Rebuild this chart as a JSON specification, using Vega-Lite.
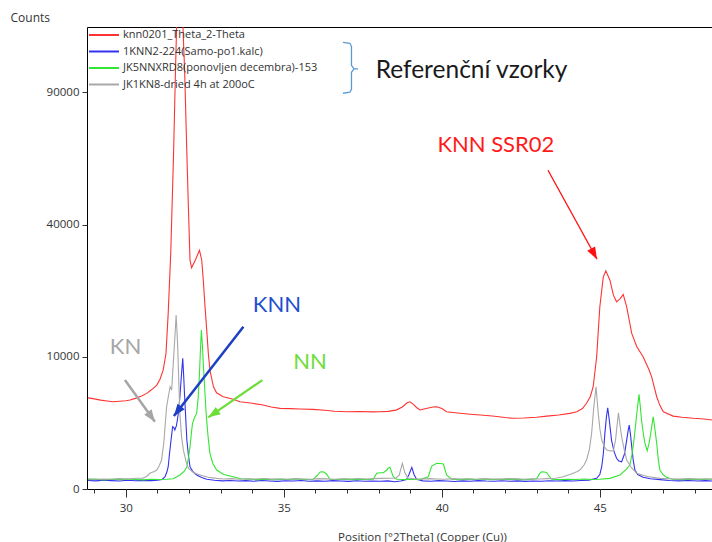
{
  "$schema": "https://vega.github.io/schema/vega-lite/v6.json",
  "width": 625,
  "height": 462,
  "autosize": {"type": "none"},
  "padding": {"left": 87, "top": 27, "right": 0, "bottom": 53},
  "background": "white",
  "config": {
    "font": "Open Sans",
    "view": {"stroke": "#000000", "strokeWidth": 1},
    "axis": {"grid": false, "domain": false, "tickColor": "#333333", "labelColor": "#333333", "labelFont": "Open Sans", "titleFont": "Open Sans", "titleFontWeight": "normal", "titleColor": "#333333"}
  },
  "resolve": {"axis": {"x": "independent"}, "scale": {"color": "independent"}},
  "datasets": {
    "xrd": [
      {"series":"knn0201_Theta_2-Theta","pos":28.80,"counts":4750},{"series":"knn0201_Theta_2-Theta","pos":29.0,"counts":4650},{"series":"knn0201_Theta_2-Theta","pos":29.2,"counts":4520},{"series":"knn0201_Theta_2-Theta","pos":29.4,"counts":4430},{"series":"knn0201_Theta_2-Theta","pos":29.6,"counts":4350},{"series":"knn0201_Theta_2-Theta","pos":29.8,"counts":4400},{"series":"knn0201_Theta_2-Theta","pos":30.0,"counts":4460},{"series":"knn0201_Theta_2-Theta","pos":30.13,"counts":4530},{"series":"knn0201_Theta_2-Theta","pos":30.3,"counts":4700},{"series":"knn0201_Theta_2-Theta","pos":30.5,"counts":4950},{"series":"knn0201_Theta_2-Theta","pos":30.66,"counts":5230},{"series":"knn0201_Theta_2-Theta","pos":30.8,"counts":5600},{"series":"knn0201_Theta_2-Theta","pos":30.98,"counts":6180},{"series":"knn0201_Theta_2-Theta","pos":31.08,"counts":6900},{"series":"knn0201_Theta_2-Theta","pos":31.18,"counts":8090},{"series":"knn0201_Theta_2-Theta","pos":31.27,"counts":10500},{"series":"knn0201_Theta_2-Theta","pos":31.34,"counts":17700},{"series":"knn0201_Theta_2-Theta","pos":31.42,"counts":31800},{"series":"knn0201_Theta_2-Theta","pos":31.51,"counts":64500},{"series":"knn0201_Theta_2-Theta","pos":31.57,"counts":100000},{"series":"knn0201_Theta_2-Theta","pos":31.61,"counts":125000},{"series":"knn0201_Theta_2-Theta","pos":31.70,"counts":160000},{"series":"knn0201_Theta_2-Theta","pos":31.80,"counts":125000},{"series":"knn0201_Theta_2-Theta","pos":31.86,"counts":100000},{"series":"knn0201_Theta_2-Theta","pos":31.93,"counts":64500},{"series":"knn0201_Theta_2-Theta","pos":31.98,"counts":45000},{"series":"knn0201_Theta_2-Theta","pos":32.03,"counts":30000},{"series":"knn0201_Theta_2-Theta","pos":32.08,"counts":28000},{"series":"knn0201_Theta_2-Theta","pos":32.20,"counts":30000},{"series":"knn0201_Theta_2-Theta","pos":32.33,"counts":32600},{"series":"knn0201_Theta_2-Theta","pos":32.40,"counts":30000},{"series":"knn0201_Theta_2-Theta","pos":32.45,"counts":25000},{"series":"knn0201_Theta_2-Theta","pos":32.50,"counts":19500},{"series":"knn0201_Theta_2-Theta","pos":32.56,"counts":14400},{"series":"knn0201_Theta_2-Theta","pos":32.61,"counts":10500},{"series":"knn0201_Theta_2-Theta","pos":32.66,"counts":8100},{"series":"knn0201_Theta_2-Theta","pos":32.77,"counts":6000},{"series":"knn0201_Theta_2-Theta","pos":32.87,"counts":5300},{"series":"knn0201_Theta_2-Theta","pos":33.08,"counts":4870},{"series":"knn0201_Theta_2-Theta","pos":33.4,"counts":4600},{"series":"knn0201_Theta_2-Theta","pos":33.61,"counts":4350},{"series":"knn0201_Theta_2-Theta","pos":34.0,"counts":4200},{"series":"knn0201_Theta_2-Theta","pos":34.34,"counts":4030},{"series":"knn0201_Theta_2-Theta","pos":34.6,"counts":3850},{"series":"knn0201_Theta_2-Theta","pos":34.88,"counts":3720},{"series":"knn0201_Theta_2-Theta","pos":35.2,"counts":3700},{"series":"knn0201_Theta_2-Theta","pos":35.5,"counts":3660},{"series":"knn0201_Theta_2-Theta","pos":35.92,"counts":3630},{"series":"knn0201_Theta_2-Theta","pos":36.3,"counts":3550},{"series":"knn0201_Theta_2-Theta","pos":36.6,"counts":3460},{"series":"knn0201_Theta_2-Theta","pos":36.99,"counts":3410},{"series":"knn0201_Theta_2-Theta","pos":37.4,"counts":3430},{"series":"knn0201_Theta_2-Theta","pos":37.8,"counts":3400},{"series":"knn0201_Theta_2-Theta","pos":38.04,"counts":3410},{"series":"knn0201_Theta_2-Theta","pos":38.3,"counts":3450},{"series":"knn0201_Theta_2-Theta","pos":38.55,"counts":3560},{"series":"knn0201_Theta_2-Theta","pos":38.75,"counts":3850},{"series":"knn0201_Theta_2-Theta","pos":38.9,"counts":4250},{"series":"knn0201_Theta_2-Theta","pos":38.99,"counts":4350},{"series":"knn0201_Theta_2-Theta","pos":39.1,"counts":4100},{"series":"knn0201_Theta_2-Theta","pos":39.2,"counts":3800},{"series":"knn0201_Theta_2-Theta","pos":39.31,"counts":3570},{"series":"knn0201_Theta_2-Theta","pos":39.5,"counts":3700},{"series":"knn0201_Theta_2-Theta","pos":39.72,"counts":3850},{"series":"knn0201_Theta_2-Theta","pos":39.84,"counts":3870},{"series":"knn0201_Theta_2-Theta","pos":40.0,"counts":3700},{"series":"knn0201_Theta_2-Theta","pos":40.15,"counts":3410},{"series":"knn0201_Theta_2-Theta","pos":40.5,"counts":3300},{"series":"knn0201_Theta_2-Theta","pos":40.9,"counts":3200},{"series":"knn0201_Theta_2-Theta","pos":41.21,"counts":3130},{"series":"knn0201_Theta_2-Theta","pos":41.6,"counts":3050},{"series":"knn0201_Theta_2-Theta","pos":42.0,"counts":2920},{"series":"knn0201_Theta_2-Theta","pos":42.25,"counts":2860},{"series":"knn0201_Theta_2-Theta","pos":42.6,"counts":2880},{"series":"knn0201_Theta_2-Theta","pos":43.0,"counts":2950},{"series":"knn0201_Theta_2-Theta","pos":43.32,"counts":3040},{"series":"knn0201_Theta_2-Theta","pos":43.7,"counts":3130},{"series":"knn0201_Theta_2-Theta","pos":44.05,"counts":3270},{"series":"knn0201_Theta_2-Theta","pos":44.27,"counts":3410},{"series":"knn0201_Theta_2-Theta","pos":44.45,"counts":3700},{"series":"knn0201_Theta_2-Theta","pos":44.58,"counts":4200},{"series":"knn0201_Theta_2-Theta","pos":44.7,"counts":4900},{"series":"knn0201_Theta_2-Theta","pos":44.79,"counts":5980},{"series":"knn0201_Theta_2-Theta","pos":44.90,"counts":10000},{"series":"knn0201_Theta_2-Theta","pos":45.0,"counts":18990},{"series":"knn0201_Theta_2-Theta","pos":45.11,"counts":25750},{"series":"knn0201_Theta_2-Theta","pos":45.19,"counts":27230},{"series":"knn0201_Theta_2-Theta","pos":45.32,"counts":24950},{"series":"knn0201_Theta_2-Theta","pos":45.43,"counts":21500},{"series":"knn0201_Theta_2-Theta","pos":45.53,"counts":20040},{"series":"knn0201_Theta_2-Theta","pos":45.65,"counts":20800},{"series":"knn0201_Theta_2-Theta","pos":45.74,"counts":21660},{"series":"knn0201_Theta_2-Theta","pos":45.85,"counts":18990},{"series":"knn0201_Theta_2-Theta","pos":46.01,"counts":13850},{"series":"knn0201_Theta_2-Theta","pos":46.17,"counts":11570},{"series":"knn0201_Theta_2-Theta","pos":46.37,"counts":10000},{"series":"knn0201_Theta_2-Theta","pos":46.55,"counts":8200},{"series":"knn0201_Theta_2-Theta","pos":46.64,"counts":7200},{"series":"knn0201_Theta_2-Theta","pos":46.8,"counts":4870},{"series":"knn0201_Theta_2-Theta","pos":46.9,"counts":4000},{"series":"knn0201_Theta_2-Theta","pos":47.01,"counts":3410},{"series":"knn0201_Theta_2-Theta","pos":47.32,"counts":3040},{"series":"knn0201_Theta_2-Theta","pos":47.6,"counts":2950},{"series":"knn0201_Theta_2-Theta","pos":47.96,"counts":2860},{"series":"knn0201_Theta_2-Theta","pos":48.3,"counts":2800},{"series":"knn0201_Theta_2-Theta","pos":48.55,"counts":2720},

      {"series":"1KNN2-224(Samo-po1.kalc)","pos":28.8,"counts":42},{"series":"1KNN2-224(Samo-po1.kalc)","pos":29.05,"counts":38},{"series":"1KNN2-224(Samo-po1.kalc)","pos":29.3,"counts":45},{"series":"1KNN2-224(Samo-po1.kalc)","pos":29.55,"counts":40},{"series":"1KNN2-224(Samo-po1.kalc)","pos":29.8,"counts":36},{"series":"1KNN2-224(Samo-po1.kalc)","pos":30.05,"counts":44},{"series":"1KNN2-224(Samo-po1.kalc)","pos":30.3,"counts":39},{"series":"1KNN2-224(Samo-po1.kalc)","pos":30.55,"counts":43},{"series":"1KNN2-224(Samo-po1.kalc)","pos":30.8,"counts":40},{"series":"1KNN2-224(Samo-po1.kalc)","pos":31.0,"counts":45},{"series":"1KNN2-224(Samo-po1.kalc)","pos":31.15,"counts":52},{"series":"1KNN2-224(Samo-po1.kalc)","pos":31.24,"counts":86},{"series":"1KNN2-224(Samo-po1.kalc)","pos":31.3,"counts":170},{"series":"1KNN2-224(Samo-po1.kalc)","pos":31.34,"counts":284},{"series":"1KNN2-224(Samo-po1.kalc)","pos":31.38,"counts":700},{"series":"1KNN2-224(Samo-po1.kalc)","pos":31.43,"counts":1370},{"series":"1KNN2-224(Samo-po1.kalc)","pos":31.48,"counts":2220},{"series":"1KNN2-224(Samo-po1.kalc)","pos":31.52,"counts":2150},{"series":"1KNN2-224(Samo-po1.kalc)","pos":31.55,"counts":1990},{"series":"1KNN2-224(Samo-po1.kalc)","pos":31.6,"counts":2300},{"series":"1KNN2-224(Samo-po1.kalc)","pos":31.63,"counts":2720},{"series":"1KNN2-224(Samo-po1.kalc)","pos":31.67,"counts":3500},{"series":"1KNN2-224(Samo-po1.kalc)","pos":31.71,"counts":4870},{"series":"1KNN2-224(Samo-po1.kalc)","pos":31.76,"counts":7500},{"series":"1KNN2-224(Samo-po1.kalc)","pos":31.80,"counts":9760},{"series":"1KNN2-224(Samo-po1.kalc)","pos":31.83,"counts":7300},{"series":"1KNN2-224(Samo-po1.kalc)","pos":31.86,"counts":4870},{"series":"1KNN2-224(Samo-po1.kalc)","pos":31.9,"counts":2600},{"series":"1KNN2-224(Samo-po1.kalc)","pos":31.93,"counts":1370},{"series":"1KNN2-224(Samo-po1.kalc)","pos":31.98,"counts":650},{"series":"1KNN2-224(Samo-po1.kalc)","pos":32.03,"counts":284},{"series":"1KNN2-224(Samo-po1.kalc)","pos":32.12,"counts":170},{"series":"1KNN2-224(Samo-po1.kalc)","pos":32.24,"counts":112},{"series":"1KNN2-224(Samo-po1.kalc)","pos":32.4,"counts":75},{"series":"1KNN2-224(Samo-po1.kalc)","pos":32.56,"counts":54},{"series":"1KNN2-224(Samo-po1.kalc)","pos":32.8,"counts":44},{"series":"1KNN2-224(Samo-po1.kalc)","pos":33.05,"counts":38},{"series":"1KNN2-224(Samo-po1.kalc)","pos":33.3,"counts":42},{"series":"1KNN2-224(Samo-po1.kalc)","pos":33.55,"counts":36},{"series":"1KNN2-224(Samo-po1.kalc)","pos":33.8,"counts":40},{"series":"1KNN2-224(Samo-po1.kalc)","pos":34.05,"counts":35},{"series":"1KNN2-224(Samo-po1.kalc)","pos":34.3,"counts":41},{"series":"1KNN2-224(Samo-po1.kalc)","pos":34.55,"counts":37},{"series":"1KNN2-224(Samo-po1.kalc)","pos":34.8,"counts":33},{"series":"1KNN2-224(Samo-po1.kalc)","pos":35.05,"counts":39},{"series":"1KNN2-224(Samo-po1.kalc)","pos":35.3,"counts":36},{"series":"1KNN2-224(Samo-po1.kalc)","pos":35.55,"counts":41},{"series":"1KNN2-224(Samo-po1.kalc)","pos":35.8,"counts":34},{"series":"1KNN2-224(Samo-po1.kalc)","pos":36.05,"counts":38},{"series":"1KNN2-224(Samo-po1.kalc)","pos":36.3,"counts":35},{"series":"1KNN2-224(Samo-po1.kalc)","pos":36.55,"counts":40},{"series":"1KNN2-224(Samo-po1.kalc)","pos":36.8,"counts":36},{"series":"1KNN2-224(Samo-po1.kalc)","pos":37.05,"counts":33},{"series":"1KNN2-224(Samo-po1.kalc)","pos":37.3,"counts":39},{"series":"1KNN2-224(Samo-po1.kalc)","pos":37.55,"counts":35},{"series":"1KNN2-224(Samo-po1.kalc)","pos":37.8,"counts":37},{"series":"1KNN2-224(Samo-po1.kalc)","pos":38.05,"counts":34},{"series":"1KNN2-224(Samo-po1.kalc)","pos":38.3,"counts":38},{"series":"1KNN2-224(Samo-po1.kalc)","pos":38.5,"counts":30},{"series":"1KNN2-224(Samo-po1.kalc)","pos":38.7,"counts":36},{"series":"1KNN2-224(Samo-po1.kalc)","pos":38.88,"counts":50},{"series":"1KNN2-224(Samo-po1.kalc)","pos":38.96,"counts":120},{"series":"1KNN2-224(Samo-po1.kalc)","pos":39.05,"counts":269},{"series":"1KNN2-224(Samo-po1.kalc)","pos":39.12,"counts":120},{"series":"1KNN2-224(Samo-po1.kalc)","pos":39.2,"counts":55},{"series":"1KNN2-224(Samo-po1.kalc)","pos":39.4,"counts":38},{"series":"1KNN2-224(Samo-po1.kalc)","pos":39.65,"counts":34},{"series":"1KNN2-224(Samo-po1.kalc)","pos":39.9,"counts":40},{"series":"1KNN2-224(Samo-po1.kalc)","pos":40.15,"counts":36},{"series":"1KNN2-224(Samo-po1.kalc)","pos":40.4,"counts":32},{"series":"1KNN2-224(Samo-po1.kalc)","pos":40.65,"counts":38},{"series":"1KNN2-224(Samo-po1.kalc)","pos":40.9,"counts":35},{"series":"1KNN2-224(Samo-po1.kalc)","pos":41.15,"counts":40},{"series":"1KNN2-224(Samo-po1.kalc)","pos":41.4,"counts":36},{"series":"1KNN2-224(Samo-po1.kalc)","pos":41.65,"counts":34},{"series":"1KNN2-224(Samo-po1.kalc)","pos":41.9,"counts":39},{"series":"1KNN2-224(Samo-po1.kalc)","pos":42.15,"counts":35},{"series":"1KNN2-224(Samo-po1.kalc)","pos":42.4,"counts":38},{"series":"1KNN2-224(Samo-po1.kalc)","pos":42.65,"counts":33},{"series":"1KNN2-224(Samo-po1.kalc)","pos":42.9,"counts":37},{"series":"1KNN2-224(Samo-po1.kalc)","pos":43.15,"counts":35},{"series":"1KNN2-224(Samo-po1.kalc)","pos":43.4,"counts":39},{"series":"1KNN2-224(Samo-po1.kalc)","pos":43.65,"counts":36},{"series":"1KNN2-224(Samo-po1.kalc)","pos":43.9,"counts":40},{"series":"1KNN2-224(Samo-po1.kalc)","pos":44.15,"counts":37},{"series":"1KNN2-224(Samo-po1.kalc)","pos":44.4,"counts":41},{"series":"1KNN2-224(Samo-po1.kalc)","pos":44.65,"counts":45},{"series":"1KNN2-224(Samo-po1.kalc)","pos":44.9,"counts":65},{"series":"1KNN2-224(Samo-po1.kalc)","pos":45.0,"counts":120},{"series":"1KNN2-224(Samo-po1.kalc)","pos":45.06,"counts":284},{"series":"1KNN2-224(Samo-po1.kalc)","pos":45.11,"counts":700},{"series":"1KNN2-224(Samo-po1.kalc)","pos":45.16,"counts":1770},{"series":"1KNN2-224(Samo-po1.kalc)","pos":45.21,"counts":3000},{"series":"1KNN2-224(Samo-po1.kalc)","pos":45.25,"counts":3780},{"series":"1KNN2-224(Samo-po1.kalc)","pos":45.3,"counts":2700},{"series":"1KNN2-224(Samo-po1.kalc)","pos":45.37,"counts":1370},{"series":"1KNN2-224(Samo-po1.kalc)","pos":45.45,"counts":800},{"series":"1KNN2-224(Samo-po1.kalc)","pos":45.53,"counts":540},{"series":"1KNN2-224(Samo-po1.kalc)","pos":45.6,"counts":450},{"series":"1KNN2-224(Samo-po1.kalc)","pos":45.69,"counts":425},{"series":"1KNN2-224(Samo-po1.kalc)","pos":45.78,"counts":700},{"series":"1KNN2-224(Samo-po1.kalc)","pos":45.85,"counts":1370},{"series":"1KNN2-224(Samo-po1.kalc)","pos":45.9,"counts":2000},{"series":"1KNN2-224(Samo-po1.kalc)","pos":45.93,"counts":2340},{"series":"1KNN2-224(Samo-po1.kalc)","pos":45.97,"counts":1700},{"series":"1KNN2-224(Samo-po1.kalc)","pos":46.01,"counts":1020},{"series":"1KNN2-224(Samo-po1.kalc)","pos":46.06,"counts":450},{"series":"1KNN2-224(Samo-po1.kalc)","pos":46.11,"counts":206},{"series":"1KNN2-224(Samo-po1.kalc)","pos":46.2,"counts":120},{"series":"1KNN2-224(Samo-po1.kalc)","pos":46.37,"counts":78},{"series":"1KNN2-224(Samo-po1.kalc)","pos":46.6,"counts":60},{"series":"1KNN2-224(Samo-po1.kalc)","pos":46.9,"counts":50},{"series":"1KNN2-224(Samo-po1.kalc)","pos":47.2,"counts":42},{"series":"1KNN2-224(Samo-po1.kalc)","pos":47.5,"counts":38},{"series":"1KNN2-224(Samo-po1.kalc)","pos":47.8,"counts":41},{"series":"1KNN2-224(Samo-po1.kalc)","pos":48.1,"counts":36},{"series":"1KNN2-224(Samo-po1.kalc)","pos":48.35,"counts":40},{"series":"1KNN2-224(Samo-po1.kalc)","pos":48.55,"counts":37},

      {"series":"JK5NNXRD8(ponovljen decembra)-153","pos":28.8,"counts":50},{"series":"JK5NNXRD8(ponovljen decembra)-153","pos":29.05,"counts":56},{"series":"JK5NNXRD8(ponovljen decembra)-153","pos":29.3,"counts":48},{"series":"JK5NNXRD8(ponovljen decembra)-153","pos":29.55,"counts":54},{"series":"JK5NNXRD8(ponovljen decembra)-153","pos":29.8,"counts":50},{"series":"JK5NNXRD8(ponovljen decembra)-153","pos":30.05,"counts":57},{"series":"JK5NNXRD8(ponovljen decembra)-153","pos":30.3,"counts":52},{"series":"JK5NNXRD8(ponovljen decembra)-153","pos":30.55,"counts":48},{"series":"JK5NNXRD8(ponovljen decembra)-153","pos":30.8,"counts":55},{"series":"JK5NNXRD8(ponovljen decembra)-153","pos":31.05,"counts":51},{"series":"JK5NNXRD8(ponovljen decembra)-153","pos":31.3,"counts":54},{"series":"JK5NNXRD8(ponovljen decembra)-153","pos":31.5,"counts":60},{"series":"JK5NNXRD8(ponovljen decembra)-153","pos":31.71,"counts":112},{"series":"JK5NNXRD8(ponovljen decembra)-153","pos":31.85,"counts":180},{"series":"JK5NNXRD8(ponovljen decembra)-153","pos":31.93,"counts":284},{"series":"JK5NNXRD8(ponovljen decembra)-153","pos":31.98,"counts":550},{"series":"JK5NNXRD8(ponovljen decembra)-153","pos":32.03,"counts":1020},{"series":"JK5NNXRD8(ponovljen decembra)-153","pos":32.08,"counts":1900},{"series":"JK5NNXRD8(ponovljen decembra)-153","pos":32.11,"counts":2470},{"series":"JK5NNXRD8(ponovljen decembra)-153","pos":32.17,"counts":2900},{"series":"JK5NNXRD8(ponovljen decembra)-153","pos":32.24,"counts":3270},{"series":"JK5NNXRD8(ponovljen decembra)-153","pos":32.29,"counts":4800},{"series":"JK5NNXRD8(ponovljen decembra)-153","pos":32.32,"counts":6790},{"series":"JK5NNXRD8(ponovljen decembra)-153","pos":32.36,"counts":11000},{"series":"JK5NNXRD8(ponovljen decembra)-153","pos":32.39,"counts":14440},{"series":"JK5NNXRD8(ponovljen decembra)-153","pos":32.42,"counts":12000},{"series":"JK5NNXRD8(ponovljen decembra)-153","pos":32.45,"counts":9030},{"series":"JK5NNXRD8(ponovljen decembra)-153","pos":32.5,"counts":5500},{"series":"JK5NNXRD8(ponovljen decembra)-153","pos":32.54,"counts":3270},{"series":"JK5NNXRD8(ponovljen decembra)-153","pos":32.6,"counts":1600},{"series":"JK5NNXRD8(ponovljen decembra)-153","pos":32.66,"counts":730},{"series":"JK5NNXRD8(ponovljen decembra)-153","pos":32.75,"counts":380},{"series":"JK5NNXRD8(ponovljen decembra)-153","pos":32.87,"counts":206},{"series":"JK5NNXRD8(ponovljen decembra)-153","pos":33.1,"counts":120},{"series":"JK5NNXRD8(ponovljen decembra)-153","pos":33.4,"counts":86},{"series":"JK5NNXRD8(ponovljen decembra)-153","pos":33.65,"counts":60},{"series":"JK5NNXRD8(ponovljen decembra)-153","pos":33.93,"counts":54},{"series":"JK5NNXRD8(ponovljen decembra)-153","pos":34.2,"counts":50},{"series":"JK5NNXRD8(ponovljen decembra)-153","pos":34.45,"counts":56},{"series":"JK5NNXRD8(ponovljen decembra)-153","pos":34.7,"counts":49},{"series":"JK5NNXRD8(ponovljen decembra)-153","pos":34.95,"counts":54},{"series":"JK5NNXRD8(ponovljen decembra)-153","pos":35.2,"counts":51},{"series":"JK5NNXRD8(ponovljen decembra)-153","pos":35.45,"counts":57},{"series":"JK5NNXRD8(ponovljen decembra)-153","pos":35.7,"counts":50},{"series":"JK5NNXRD8(ponovljen decembra)-153","pos":35.93,"counts":54},{"series":"JK5NNXRD8(ponovljen decembra)-153","pos":36.05,"counts":100},{"series":"JK5NNXRD8(ponovljen decembra)-153","pos":36.15,"counts":165},{"series":"JK5NNXRD8(ponovljen decembra)-153","pos":36.25,"counts":171},{"series":"JK5NNXRD8(ponovljen decembra)-153","pos":36.35,"counts":130},{"series":"JK5NNXRD8(ponovljen decembra)-153","pos":36.46,"counts":55},{"series":"JK5NNXRD8(ponovljen decembra)-153","pos":36.7,"counts":52},{"series":"JK5NNXRD8(ponovljen decembra)-153","pos":36.95,"counts":56},{"series":"JK5NNXRD8(ponovljen decembra)-153","pos":37.2,"counts":50},{"series":"JK5NNXRD8(ponovljen decembra)-153","pos":37.45,"counts":55},{"series":"JK5NNXRD8(ponovljen decembra)-153","pos":37.7,"counts":52},{"series":"JK5NNXRD8(ponovljen decembra)-153","pos":37.83,"counts":56},{"series":"JK5NNXRD8(ponovljen decembra)-153","pos":37.94,"counts":141},{"series":"JK5NNXRD8(ponovljen decembra)-153","pos":38.05,"counts":150},{"series":"JK5NNXRD8(ponovljen decembra)-153","pos":38.15,"counts":152},{"series":"JK5NNXRD8(ponovljen decembra)-153","pos":38.25,"counts":200},{"series":"JK5NNXRD8(ponovljen decembra)-153","pos":38.30,"counts":245},{"series":"JK5NNXRD8(ponovljen decembra)-153","pos":38.36,"counts":269},{"series":"JK5NNXRD8(ponovljen decembra)-153","pos":38.42,"counts":150},{"series":"JK5NNXRD8(ponovljen decembra)-153","pos":38.46,"counts":86},{"series":"JK5NNXRD8(ponovljen decembra)-153","pos":38.57,"counts":54},{"series":"JK5NNXRD8(ponovljen decembra)-153","pos":38.8,"counts":52},{"series":"JK5NNXRD8(ponovljen decembra)-153","pos":39.05,"counts":56},{"series":"JK5NNXRD8(ponovljen decembra)-153","pos":39.3,"counts":50},{"series":"JK5NNXRD8(ponovljen decembra)-153","pos":39.57,"counts":86},{"series":"JK5NNXRD8(ponovljen decembra)-153","pos":39.68,"counts":300},{"series":"JK5NNXRD8(ponovljen decembra)-153","pos":39.84,"counts":377},{"series":"JK5NNXRD8(ponovljen decembra)-153","pos":39.95,"counts":370},{"series":"JK5NNXRD8(ponovljen decembra)-153","pos":40.05,"counts":357},{"series":"JK5NNXRD8(ponovljen decembra)-153","pos":40.15,"counts":112},{"series":"JK5NNXRD8(ponovljen decembra)-153","pos":40.31,"counts":54},{"series":"JK5NNXRD8(ponovljen decembra)-153","pos":40.55,"counts":50},{"series":"JK5NNXRD8(ponovljen decembra)-153","pos":40.8,"counts":56},{"series":"JK5NNXRD8(ponovljen decembra)-153","pos":41.05,"counts":52},{"series":"JK5NNXRD8(ponovljen decembra)-153","pos":41.3,"counts":57},{"series":"JK5NNXRD8(ponovljen decembra)-153","pos":41.55,"counts":50},{"series":"JK5NNXRD8(ponovljen decembra)-153","pos":41.8,"counts":54},{"series":"JK5NNXRD8(ponovljen decembra)-153","pos":42.05,"counts":51},{"series":"JK5NNXRD8(ponovljen decembra)-153","pos":42.3,"counts":56},{"series":"JK5NNXRD8(ponovljen decembra)-153","pos":42.55,"counts":50},{"series":"JK5NNXRD8(ponovljen decembra)-153","pos":42.8,"counts":53},{"series":"JK5NNXRD8(ponovljen decembra)-153","pos":43.0,"counts":60},{"series":"JK5NNXRD8(ponovljen decembra)-153","pos":43.1,"counts":140},{"series":"JK5NNXRD8(ponovljen decembra)-153","pos":43.16,"counts":171},{"series":"JK5NNXRD8(ponovljen decembra)-153","pos":43.25,"counts":165},{"series":"JK5NNXRD8(ponovljen decembra)-153","pos":43.32,"counts":152},{"series":"JK5NNXRD8(ponovljen decembra)-153","pos":43.4,"counts":90},{"series":"JK5NNXRD8(ponovljen decembra)-153","pos":43.48,"counts":54},{"series":"JK5NNXRD8(ponovljen decembra)-153","pos":43.75,"counts":50},{"series":"JK5NNXRD8(ponovljen decembra)-153","pos":44.0,"counts":55},{"series":"JK5NNXRD8(ponovljen decembra)-153","pos":44.25,"counts":52},{"series":"JK5NNXRD8(ponovljen decembra)-153","pos":44.5,"counts":57},{"series":"JK5NNXRD8(ponovljen decembra)-153","pos":44.75,"counts":51},{"series":"JK5NNXRD8(ponovljen decembra)-153","pos":45.0,"counts":55},{"series":"JK5NNXRD8(ponovljen decembra)-153","pos":45.32,"counts":65},{"series":"JK5NNXRD8(ponovljen decembra)-153","pos":45.64,"counts":112},{"series":"JK5NNXRD8(ponovljen decembra)-153","pos":45.85,"counts":230},{"series":"JK5NNXRD8(ponovljen decembra)-153","pos":45.95,"counts":330},{"series":"JK5NNXRD8(ponovljen decembra)-153","pos":46.02,"counts":700},{"series":"JK5NNXRD8(ponovljen decembra)-153","pos":46.08,"counts":1370},{"series":"JK5NNXRD8(ponovljen decembra)-153","pos":46.13,"counts":2300},{"series":"JK5NNXRD8(ponovljen decembra)-153","pos":46.17,"counts":3270},{"series":"JK5NNXRD8(ponovljen decembra)-153","pos":46.24,"counts":5120},{"series":"JK5NNXRD8(ponovljen decembra)-153","pos":46.28,"counts":3900},{"series":"JK5NNXRD8(ponovljen decembra)-153","pos":46.32,"counts":2720},{"series":"JK5NNXRD8(ponovljen decembra)-153","pos":46.38,"counts":1700},{"series":"JK5NNXRD8(ponovljen decembra)-153","pos":46.43,"counts":1190},{"series":"JK5NNXRD8(ponovljen decembra)-153","pos":46.50,"counts":840},{"series":"JK5NNXRD8(ponovljen decembra)-153","pos":46.56,"counts":1200},{"series":"JK5NNXRD8(ponovljen decembra)-153","pos":46.61,"counts":1770},{"series":"JK5NNXRD8(ponovljen decembra)-153","pos":46.69,"counts":2990},{"series":"JK5NNXRD8(ponovljen decembra)-153","pos":46.74,"counts":2100},{"series":"JK5NNXRD8(ponovljen decembra)-153","pos":46.8,"counts":1190},{"series":"JK5NNXRD8(ponovljen decembra)-153","pos":46.85,"counts":500},{"series":"JK5NNXRD8(ponovljen decembra)-153","pos":46.9,"counts":206},{"series":"JK5NNXRD8(ponovljen decembra)-153","pos":47.0,"counts":120},{"series":"JK5NNXRD8(ponovljen decembra)-153","pos":47.11,"counts":78},{"series":"JK5NNXRD8(ponovljen decembra)-153","pos":47.3,"counts":55},{"series":"JK5NNXRD8(ponovljen decembra)-153","pos":47.6,"counts":50},{"series":"JK5NNXRD8(ponovljen decembra)-153","pos":47.9,"counts":56},{"series":"JK5NNXRD8(ponovljen decembra)-153","pos":48.2,"counts":52},{"series":"JK5NNXRD8(ponovljen decembra)-153","pos":48.55,"counts":54},

      {"series":"JK1KN8-dried 4h at 200oC","pos":28.8,"counts":60},{"series":"JK1KN8-dried 4h at 200oC","pos":29.05,"counts":52},{"series":"JK1KN8-dried 4h at 200oC","pos":29.3,"counts":58},{"series":"JK1KN8-dried 4h at 200oC","pos":29.55,"counts":55},{"series":"JK1KN8-dried 4h at 200oC","pos":29.8,"counts":62},{"series":"JK1KN8-dried 4h at 200oC","pos":30.05,"counts":58},{"series":"JK1KN8-dried 4h at 200oC","pos":30.3,"counts":66},{"series":"JK1KN8-dried 4h at 200oC","pos":30.54,"counts":68},{"series":"JK1KN8-dried 4h at 200oC","pos":30.66,"counts":90},{"series":"JK1KN8-dried 4h at 200oC","pos":30.76,"counts":141},{"series":"JK1KN8-dried 4h at 200oC","pos":30.9,"counts":175},{"series":"JK1KN8-dried 4h at 200oC","pos":30.98,"counts":206},{"series":"JK1KN8-dried 4h at 200oC","pos":31.05,"counts":300},{"series":"JK1KN8-dried 4h at 200oC","pos":31.13,"counts":480},{"series":"JK1KN8-dried 4h at 200oC","pos":31.2,"counts":1200},{"series":"JK1KN8-dried 4h at 200oC","pos":31.24,"counts":2220},{"series":"JK1KN8-dried 4h at 200oC","pos":31.29,"counts":3870},{"series":"JK1KN8-dried 4h at 200oC","pos":31.35,"counts":5000},{"series":"JK1KN8-dried 4h at 200oC","pos":31.40,"counts":5980},{"series":"JK1KN8-dried 4h at 200oC","pos":31.45,"counts":5600},{"series":"JK1KN8-dried 4h at 200oC","pos":31.50,"counts":9030},{"series":"JK1KN8-dried 4h at 200oC","pos":31.56,"counts":14000},{"series":"JK1KN8-dried 4h at 200oC","pos":31.59,"counts":17300},{"series":"JK1KN8-dried 4h at 200oC","pos":31.62,"counts":14000},{"series":"JK1KN8-dried 4h at 200oC","pos":31.64,"counts":11570},{"series":"JK1KN8-dried 4h at 200oC","pos":31.68,"counts":6000},{"series":"JK1KN8-dried 4h at 200oC","pos":31.71,"counts":3270},{"series":"JK1KN8-dried 4h at 200oC","pos":31.76,"counts":1600},{"series":"JK1KN8-dried 4h at 200oC","pos":31.82,"counts":870},{"series":"JK1KN8-dried 4h at 200oC","pos":31.9,"counts":450},{"series":"JK1KN8-dried 4h at 200oC","pos":31.98,"counts":245},{"series":"JK1KN8-dried 4h at 200oC","pos":32.15,"counts":150},{"series":"JK1KN8-dried 4h at 200oC","pos":32.35,"counts":112},{"series":"JK1KN8-dried 4h at 200oC","pos":32.6,"counts":80},{"series":"JK1KN8-dried 4h at 200oC","pos":32.87,"counts":65},{"series":"JK1KN8-dried 4h at 200oC","pos":33.1,"counts":58},{"series":"JK1KN8-dried 4h at 200oC","pos":33.35,"counts":62},{"series":"JK1KN8-dried 4h at 200oC","pos":33.6,"counts":55},{"series":"JK1KN8-dried 4h at 200oC","pos":33.85,"counts":60},{"series":"JK1KN8-dried 4h at 200oC","pos":34.1,"counts":57},{"series":"JK1KN8-dried 4h at 200oC","pos":34.35,"counts":63},{"series":"JK1KN8-dried 4h at 200oC","pos":34.6,"counts":56},{"series":"JK1KN8-dried 4h at 200oC","pos":34.85,"counts":60},{"series":"JK1KN8-dried 4h at 200oC","pos":35.1,"counts":54},{"series":"JK1KN8-dried 4h at 200oC","pos":35.35,"counts":61},{"series":"JK1KN8-dried 4h at 200oC","pos":35.6,"counts":58},{"series":"JK1KN8-dried 4h at 200oC","pos":35.85,"counts":55},{"series":"JK1KN8-dried 4h at 200oC","pos":36.1,"counts":62},{"series":"JK1KN8-dried 4h at 200oC","pos":36.35,"counts":59},{"series":"JK1KN8-dried 4h at 200oC","pos":36.6,"counts":55},{"series":"JK1KN8-dried 4h at 200oC","pos":36.85,"counts":60},{"series":"JK1KN8-dried 4h at 200oC","pos":37.1,"counts":57},{"series":"JK1KN8-dried 4h at 200oC","pos":37.35,"counts":63},{"series":"JK1KN8-dried 4h at 200oC","pos":37.6,"counts":58},{"series":"JK1KN8-dried 4h at 200oC","pos":37.85,"counts":61},{"series":"JK1KN8-dried 4h at 200oC","pos":38.1,"counts":64},{"series":"JK1KN8-dried 4h at 200oC","pos":38.35,"counts":66},{"series":"JK1KN8-dried 4h at 200oC","pos":38.55,"counts":70},{"series":"JK1KN8-dried 4h at 200oC","pos":38.65,"counts":110},{"series":"JK1KN8-dried 4h at 200oC","pos":38.75,"counts":377},{"series":"JK1KN8-dried 4h at 200oC","pos":38.83,"counts":150},{"series":"JK1KN8-dried 4h at 200oC","pos":38.92,"counts":70},{"series":"JK1KN8-dried 4h at 200oC","pos":39.1,"counts":60},{"series":"JK1KN8-dried 4h at 200oC","pos":39.35,"counts":56},{"series":"JK1KN8-dried 4h at 200oC","pos":39.6,"counts":62},{"series":"JK1KN8-dried 4h at 200oC","pos":39.85,"counts":58},{"series":"JK1KN8-dried 4h at 200oC","pos":40.1,"counts":55},{"series":"JK1KN8-dried 4h at 200oC","pos":40.35,"counts":61},{"series":"JK1KN8-dried 4h at 200oC","pos":40.6,"counts":57},{"series":"JK1KN8-dried 4h at 200oC","pos":40.85,"counts":60},{"series":"JK1KN8-dried 4h at 200oC","pos":41.1,"counts":55},{"series":"JK1KN8-dried 4h at 200oC","pos":41.35,"counts":62},{"series":"JK1KN8-dried 4h at 200oC","pos":41.6,"counts":58},{"series":"JK1KN8-dried 4h at 200oC","pos":41.85,"counts":56},{"series":"JK1KN8-dried 4h at 200oC","pos":42.1,"counts":61},{"series":"JK1KN8-dried 4h at 200oC","pos":42.35,"counts":59},{"series":"JK1KN8-dried 4h at 200oC","pos":42.6,"counts":55},{"series":"JK1KN8-dried 4h at 200oC","pos":42.85,"counts":60},{"series":"JK1KN8-dried 4h at 200oC","pos":43.1,"counts":58},{"series":"JK1KN8-dried 4h at 200oC","pos":43.35,"counts":62},{"series":"JK1KN8-dried 4h at 200oC","pos":43.6,"counts":66},{"series":"JK1KN8-dried 4h at 200oC","pos":43.84,"counts":86},{"series":"JK1KN8-dried 4h at 200oC","pos":44.05,"counts":120},{"series":"JK1KN8-dried 4h at 200oC","pos":44.27,"counts":171},{"series":"JK1KN8-dried 4h at 200oC","pos":44.37,"counts":206},{"series":"JK1KN8-dried 4h at 200oC","pos":44.5,"counts":330},{"series":"JK1KN8-dried 4h at 200oC","pos":44.58,"counts":480},{"series":"JK1KN8-dried 4h at 200oC","pos":44.67,"counts":900},{"series":"JK1KN8-dried 4h at 200oC","pos":44.74,"counts":1770},{"series":"JK1KN8-dried 4h at 200oC","pos":44.81,"counts":3870},{"series":"JK1KN8-dried 4h at 200oC","pos":44.88,"counts":5980},{"series":"JK1KN8-dried 4h at 200oC","pos":44.95,"counts":3270},{"series":"JK1KN8-dried 4h at 200oC","pos":45.0,"counts":2100},{"series":"JK1KN8-dried 4h at 200oC","pos":45.06,"counts":1370},{"series":"JK1KN8-dried 4h at 200oC","pos":45.15,"counts":1000},{"series":"JK1KN8-dried 4h at 200oC","pos":45.22,"counts":870},{"series":"JK1KN8-dried 4h at 200oC","pos":45.33,"counts":830},{"series":"JK1KN8-dried 4h at 200oC","pos":45.43,"counts":840},{"series":"JK1KN8-dried 4h at 200oC","pos":45.5,"counts":1400},{"series":"JK1KN8-dried 4h at 200oC","pos":45.53,"counts":1990},{"series":"JK1KN8-dried 4h at 200oC","pos":45.59,"counts":3330},{"series":"JK1KN8-dried 4h at 200oC","pos":45.64,"counts":2300},{"series":"JK1KN8-dried 4h at 200oC","pos":45.69,"counts":1560},{"series":"JK1KN8-dried 4h at 200oC","pos":45.77,"counts":900},{"series":"JK1KN8-dried 4h at 200oC","pos":45.85,"counts":480},{"series":"JK1KN8-dried 4h at 200oC","pos":46.0,"counts":260},{"series":"JK1KN8-dried 4h at 200oC","pos":46.17,"counts":141},{"series":"JK1KN8-dried 4h at 200oC","pos":46.5,"counts":90},{"series":"JK1KN8-dried 4h at 200oC","pos":46.9,"counts":65},{"series":"JK1KN8-dried 4h at 200oC","pos":47.2,"counts":60},{"series":"JK1KN8-dried 4h at 200oC","pos":47.5,"counts":56},{"series":"JK1KN8-dried 4h at 200oC","pos":47.8,"counts":61},{"series":"JK1KN8-dried 4h at 200oC","pos":48.1,"counts":57},{"series":"JK1KN8-dried 4h at 200oC","pos":48.35,"counts":60},{"series":"JK1KN8-dried 4h at 200oC","pos":48.55,"counts":58}
    ],
    "ann": [
      {"name":"SSR","label":"KNN SSR02","pos":41.71,"counts":67600},
      {"name":"KNN","label":"KNN","pos":34.78,"counts":19340},
      {"name":"KN","label":"KN","pos":29.99,"counts":11570},
      {"name":"NN","label":"NN","pos":35.83,"counts":9215}
    ],
    "ref": [
      {"label":"Referenční vzorky","pos":40.94,"counts":99800}
    ],
    "arrows": [
      {"name":"SSR","pos":43.36,"counts":58130,"pos2":44.91,"counts2":30220},
      {"name":"KNN","pos":33.72,"counts":15050,"pos2":31.52,"counts2":3045},
      {"name":"KN","pos":29.97,"counts":6790,"pos2":30.92,"counts2":2590},
      {"name":"NN","pos":34.32,"counts":6790,"pos2":32.61,"counts2":2937}
    ],
    "bracket": [
      {"order":1,"pos":36.87,"counts":114150},
      {"order":2,"pos":37.09,"counts":113640},
      {"order":3,"pos":37.14,"counts":112100},
      {"order":4,"pos":37.14,"counts":102700},
      {"order":5,"pos":37.22,"counts":101000},
      {"order":6,"pos":37.35,"counts":101000},
      {"order":7,"pos":37.22,"counts":101000},
      {"order":8,"pos":37.14,"counts":99350},
      {"order":9,"pos":37.14,"counts":91400},
      {"order":10,"pos":37.09,"counts":90040},
      {"order":11,"pos":36.87,"counts":89600}
    ]
  },
  "layer": [
    {
      "data": {"name": "xrd"},
      "mark": {"type": "line", "strokeWidth": 1.1, "clip": true},
      "encoding": {
        "x": {"field": "pos", "type": "quantitative", "scale": {"domain": [28.77, 48.55], "nice": false, "zero": false},
              "axis": {"orient": "bottom", "values": [29,30,31,32,33,34,35,36,37,38,39,40,41,42,43,44,45,46,47,48], "labels": false, "tickSize": 4, "title": null}},
        "y": {"field": "counts", "type": "quantitative", "scale": {"type": "sqrt", "domain": [0, 122100], "nice": false},
              "axis": {"values": [0, 10000, 40000, 90000], "format": "d", "tickSize": 5, "labelFontSize": 11.5, "labelPadding": 3, "title": "Counts", "titleAngle": 0, "titleAlign": "left", "titleBaseline": "middle", "titleX": -77, "titleY": -10, "titleFontSize": 12}},
        "color": {"field": "series", "type": "nominal",
                  "scale": {"domain": ["knn0201_Theta_2-Theta", "1KNN2-224(Samo-po1.kalc)", "JK5NNXRD8(ponovljen decembra)-153", "JK1KN8-dried 4h at 200oC"], "range": ["#ff3333", "#3333ee", "#33e633", "#a8a8a8"]},
                  "legend": {"orient": "none", "legendX": 11, "legendY": 2, "title": null, "symbolType": "M-3,0H3", "symbolSize": 100, "symbolStrokeWidth": 2, "labelFontSize": 11, "labelLimit": 0, "labelColor": "#333333", "labelOffset": 13, "rowPadding": 5.5, "padding": 0}}
      }
    },
    {
      "data": {"name": "bracket"},
      "mark": {"type": "line", "color": "#5b9bd5", "strokeWidth": 1.3},
      "encoding": {
        "x": {"field": "pos", "type": "quantitative", "scale": {"domain": [28.77, 48.55], "nice": false, "zero": false}, "axis": null},
        "y": {"field": "counts", "type": "quantitative", "scale": {"type": "sqrt", "domain": [0, 122100], "nice": false}},
        "order": {"field": "order", "type": "quantitative"}
      }
    },
    {
      "data": {"name": "arrows"},
      "transform": [{"filter": "datum.name === 'SSR'"}],
      "layer": [
        {"mark": {"type": "rule", "color": "#ff1010", "strokeWidth": 1.3},
         "encoding": {"x": {"field": "pos", "type": "quantitative", "scale": {"domain": [28.77, 48.55], "nice": false, "zero": false}, "axis": null}, "y": {"field": "counts", "type": "quantitative", "scale": {"type": "sqrt", "domain": [0, 122100], "nice": false}}, "x2": {"field": "pos2"}, "y2": {"field": "counts2"}}},
        {"mark": {"type": "point", "shape": "M0,0L-0.75,2L0.75,2Z", "size": 144, "filled": true, "opacity": 1, "color": "#ff1010", "angle": 151},
         "encoding": {"x": {"field": "pos2", "type": "quantitative", "scale": {"domain": [28.77, 48.55], "nice": false, "zero": false}, "axis": null}, "y": {"field": "counts2", "type": "quantitative", "scale": {"type": "sqrt", "domain": [0, 122100], "nice": false}}}}
      ]
    },
    {
      "data": {"name": "arrows"},
      "transform": [{"filter": "datum.name === 'KNN'"}],
      "layer": [
        {"mark": {"type": "rule", "color": "#1c3fc4", "strokeWidth": 2.5},
         "encoding": {"x": {"field": "pos", "type": "quantitative", "scale": {"domain": [28.77, 48.55], "nice": false, "zero": false}, "axis": null}, "y": {"field": "counts", "type": "quantitative", "scale": {"type": "sqrt", "domain": [0, 122100], "nice": false}}, "x2": {"field": "pos2"}, "y2": {"field": "counts2"}}},
        {"mark": {"type": "point", "shape": "M0,0L-0.75,2L0.75,2Z", "size": 144, "filled": true, "opacity": 1, "color": "#1c3fc4", "angle": 217},
         "encoding": {"x": {"field": "pos2", "type": "quantitative", "scale": {"domain": [28.77, 48.55], "nice": false, "zero": false}, "axis": null}, "y": {"field": "counts2", "type": "quantitative", "scale": {"type": "sqrt", "domain": [0, 122100], "nice": false}}}}
      ]
    },
    {
      "data": {"name": "arrows"},
      "transform": [{"filter": "datum.name === 'KN'"}],
      "layer": [
        {"mark": {"type": "rule", "color": "#a6a6a6", "strokeWidth": 2.5},
         "encoding": {"x": {"field": "pos", "type": "quantitative", "scale": {"domain": [28.77, 48.55], "nice": false, "zero": false}, "axis": null}, "y": {"field": "counts", "type": "quantitative", "scale": {"type": "sqrt", "domain": [0, 122100], "nice": false}}, "x2": {"field": "pos2"}, "y2": {"field": "counts2"}}},
        {"mark": {"type": "point", "shape": "M0,0L-0.75,2L0.75,2Z", "size": 144, "filled": true, "opacity": 1, "color": "#a6a6a6", "angle": 144},
         "encoding": {"x": {"field": "pos2", "type": "quantitative", "scale": {"domain": [28.77, 48.55], "nice": false, "zero": false}, "axis": null}, "y": {"field": "counts2", "type": "quantitative", "scale": {"type": "sqrt", "domain": [0, 122100], "nice": false}}}}
      ]
    },
    {
      "data": {"name": "arrows"},
      "transform": [{"filter": "datum.name === 'NN'"}],
      "layer": [
        {"mark": {"type": "rule", "color": "#6ddd38", "strokeWidth": 2.2},
         "encoding": {"x": {"field": "pos", "type": "quantitative", "scale": {"domain": [28.77, 48.55], "nice": false, "zero": false}, "axis": null}, "y": {"field": "counts", "type": "quantitative", "scale": {"type": "sqrt", "domain": [0, 122100], "nice": false}}, "x2": {"field": "pos2"}, "y2": {"field": "counts2"}}},
        {"mark": {"type": "point", "shape": "M0,0L-0.75,2L0.75,2Z", "size": 144, "filled": true, "opacity": 1, "color": "#6ddd38", "angle": 236},
         "encoding": {"x": {"field": "pos2", "type": "quantitative", "scale": {"domain": [28.77, 48.55], "nice": false, "zero": false}, "axis": null}, "y": {"field": "counts2", "type": "quantitative", "scale": {"type": "sqrt", "domain": [0, 122100], "nice": false}}}}
      ]
    },
    {
      "data": {"name": "ref"},
      "mark": {"type": "text", "font": "Lato", "fontSize": 24.5, "align": "center", "baseline": "middle", "color": "#1a1a1a"},
      "encoding": {
        "x": {"field": "pos", "type": "quantitative", "scale": {"domain": [28.77, 48.55], "nice": false, "zero": false}, "axis": null},
        "y": {"field": "counts", "type": "quantitative", "scale": {"type": "sqrt", "domain": [0, 122100], "nice": false}},
        "text": {"field": "label"}
      }
    },
    {
      "data": {"name": "ann"},
      "mark": {"type": "text", "font": "Lato", "fontSize": 22, "align": "center", "baseline": "middle"},
      "encoding": {
        "x": {"field": "pos", "type": "quantitative", "scale": {"domain": [28.77, 48.55], "nice": false, "zero": false},
              "axis": {"orient": "bottom", "values": [30, 35, 40, 45], "tickSize": 8, "labelFontSize": 11.5, "labelPadding": 5, "title": "Position [°2Theta] (Copper (Cu))", "titleFontSize": 11.5, "titleX": 335, "titleY": 51, "titleBaseline": "alphabetic"}},
        "y": {"field": "counts", "type": "quantitative", "scale": {"type": "sqrt", "domain": [0, 122100], "nice": false}},
        "text": {"field": "label"},
        "color": {"field": "name", "type": "nominal", "scale": {"domain": ["SSR", "KNN", "KN", "NN"], "range": ["#ff1a1a", "#1f4fcf", "#a6a6a6", "#6ddd38"]}, "legend": null}
      }
    }
  ]
}
